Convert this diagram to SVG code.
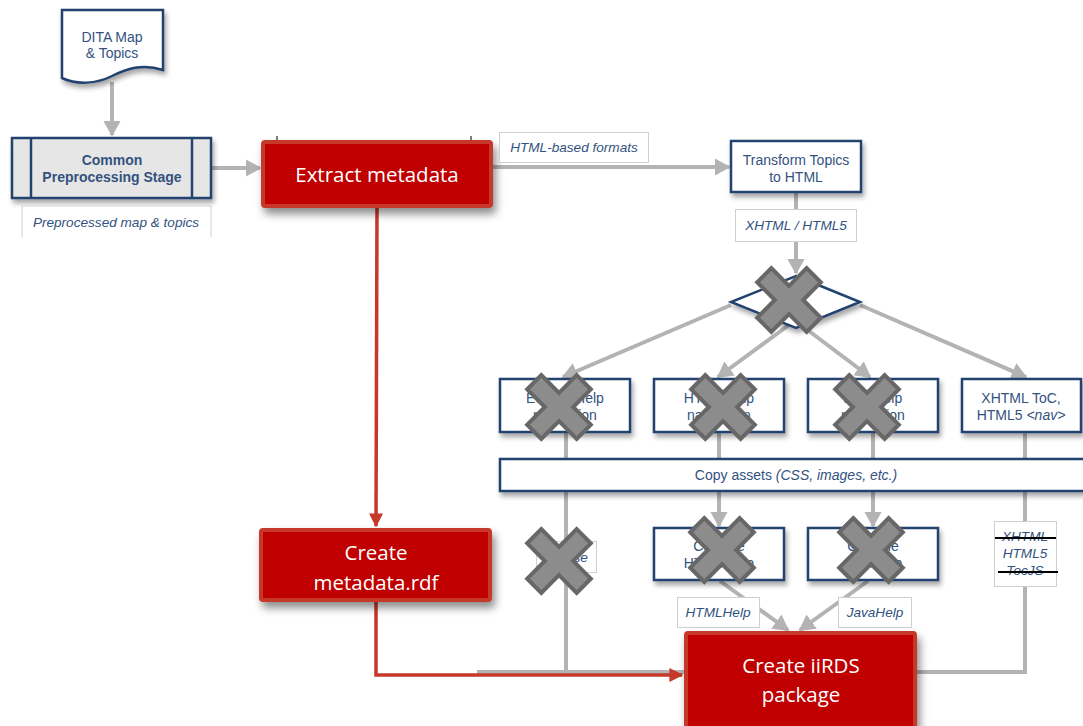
<svg xmlns="http://www.w3.org/2000/svg" width="1083" height="726" viewBox="0 0 1083 726">
  <style>
    .navy { fill: #ffffff; stroke: #22426f; stroke-width: 2.5; }
    .stage { fill: #e6e6e6; stroke: #22426f; stroke-width: 2.5; }
    .red { fill: #c00000; stroke: #c6382a; stroke-width: 4; }
    .lbl { fill: #ffffff; stroke: #cfcfcf; stroke-width: 1; }
    .t { font-family: "Liberation Sans", Arial, sans-serif; font-size: 14px; fill: #33527f; text-anchor: middle; }
    .lt { font-size: 13.6px; font-style: italic; }
    .it { font-style: italic; }
    .b { font-weight: bold; }
    .w { font-family: "Open Sans", "Liberation Sans", sans-serif; font-size: 20.5px; fill: #ffffff; text-anchor: middle; }
    .gl { fill: none; stroke: #b3b3b3; stroke-width: 4; }
    .rl { fill: none; stroke: #c6382a; stroke-width: 3.5; }
    .strike { stroke: #000000; stroke-width: 2; }
  </style>
  <defs>
    <filter id="sh" x="-20%" y="-20%" width="140%" height="160%">
      <feDropShadow dx="2" dy="4" stdDeviation="2.5" flood-color="#000000" flood-opacity="0.35"/>
    </filter>
    <filter id="shr" x="-20%" y="-20%" width="140%" height="160%">
      <feDropShadow dx="3" dy="6" stdDeviation="4" flood-color="#000000" flood-opacity="0.45"/>
    </filter>
    <marker id="ag" markerWidth="4" markerHeight="4.4" refX="3.6" refY="2.2" orient="auto" markerUnits="strokeWidth">
      <path d="M0,0 L4,2.2 L0,4.4 Z" fill="#b3b3b3"/>
    </marker>
    <marker id="ar" markerWidth="4" markerHeight="4" refX="3.6" refY="2" orient="auto" markerUnits="strokeWidth">
      <path d="M0,0 L4,2 L0,4 Z" fill="#c6382a"/>
    </marker>
    <!-- crossed-out mark, centred on the origin -->
    <g id="xmark">
      <polygon transform="rotate(45)" points="-10,-35 10,-35 10,-10 35,-10 35,10 10,10 10,35 -10,35 -10,10 -35,10 -35,-10 -10,-10" fill="#8c8c8c" stroke="#676767" stroke-width="4" stroke-linejoin="miter"/>
    </g>
  </defs>
  <rect width="1083" height="726" fill="#ffffff"/>

  <!-- connectors -->
  <g id="connectors">
    <line class="gl" x1="112" y1="82" x2="112" y2="135" marker-end="url(#ag)"/>
    <line class="gl" x1="212" y1="168" x2="260" y2="168" marker-end="url(#ag)"/>
    <line class="gl" x1="493" y1="167" x2="729" y2="167" marker-end="url(#ag)"/>
    <line class="gl" x1="796" y1="193" x2="796" y2="273" marker-end="url(#ag)"/>
    <line class="gl" x1="731" y1="305" x2="563" y2="377" marker-end="url(#ag)"/>
    <line class="gl" x1="793" y1="322" x2="718" y2="377" marker-end="url(#ag)"/>
    <line class="gl" x1="797" y1="322" x2="870" y2="377" marker-end="url(#ag)"/>
    <line class="gl" x1="860" y1="305" x2="1026" y2="377" marker-end="url(#ag)"/>
    <line class="gl" x1="566" y1="433" x2="566" y2="459"/>
    <line class="gl" x1="719" y1="433" x2="719" y2="459"/>
    <line class="gl" x1="873" y1="433" x2="873" y2="459"/>
    <line class="gl" x1="1025" y1="433" x2="1025" y2="459"/>
    <line class="gl" x1="719" y1="492" x2="719" y2="526" marker-end="url(#ag)"/>
    <line class="gl" x1="873" y1="492" x2="873" y2="526" marker-end="url(#ag)"/>
    <line class="gl" x1="720" y1="581" x2="788" y2="630" marker-end="url(#ag)"/>
    <line class="gl" x1="868" y1="581" x2="800" y2="630" marker-end="url(#ag)"/>
    <polyline class="gl" points="566,492 566,672"/>
    <line class="gl" x1="477" y1="672" x2="685" y2="672"/>
    <polyline class="gl" points="1025,492 1025,672 916,672"/>
    <line class="rl" x1="377" y1="208" x2="376" y2="526" marker-end="url(#ar)"/>
    <polyline class="rl" points="376,602 376,675 682,675" marker-end="url(#ar)"/>
  </g>

  <!-- source document -->
  <g id="dita-map">
    <path class="navy" stroke-width="3" filter="url(#sh)" d="M62,10 H163 V70 C142,63 126,69 112,76 C96,84 77,85 62,78 Z"/>
    <text class="t" x="112" y="42">DITA Map</text>
    <text class="t" x="112" y="58">&amp; Topics</text>
  </g>

  <g id="preprocessing">
    <rect class="stage" x="12" y="138" width="199" height="60" filter="url(#sh)"/>
    <line x1="31" y1="138" x2="31" y2="198" stroke="#22426f" stroke-width="2.5"/>
    <line x1="192" y1="138" x2="192" y2="198" stroke="#22426f" stroke-width="2.5"/>
    <text class="t b" x="112" y="165">Common</text>
    <text class="t b" x="112" y="182">Preprocessing Stage</text>
  </g>

  <g id="label-preprocessed">
    <path d="M22,237 V206 H211 V237" fill="#ffffff" stroke="#cfcfcf" stroke-width="1"/>
    <text class="t lt" x="116" y="227">Preprocessed map &amp; topics</text>
  </g>

  <g id="extract-metadata">
    <line x1="277" y1="136" x2="277" y2="142" stroke="#000" stroke-width="1"/>
    <line x1="471" y1="136" x2="471" y2="142" stroke="#000" stroke-width="1"/>
    <rect class="red" x="263" y="142" width="228" height="64" rx="2" filter="url(#shr)"/>
    <text class="w" x="377" y="182">Extract metadata</text>
  </g>

  <g id="label-html-formats">
    <rect class="lbl" x="499.5" y="132.5" width="149" height="30"/>
    <text class="t lt" x="574" y="152">HTML-based formats</text>
  </g>

  <g id="transform-topics">
    <rect class="navy" x="731" y="141" width="130" height="51" filter="url(#sh)"/>
    <text class="t" x="796" y="165">Transform Topics</text>
    <text class="t" x="796" y="182">to HTML</text>
  </g>

  <g id="label-xhtml">
    <rect class="lbl" x="735.5" y="209.5" width="121" height="32"/>
    <text class="t lt" x="796" y="230">XHTML / HTML5</text>
  </g>

  <g id="decision">
    <polygon class="navy" points="796,276 860,302 796,328 731,302" filter="url(#sh)"/>
    <use href="#xmark" x="789" y="300"/>
  </g>

  <g id="eclipse-nav">
    <rect class="navy" x="500" y="379" width="130" height="53" filter="url(#sh)"/>
    <text class="t" x="565" y="403">Eclipse Help</text>
    <text class="t" x="565" y="420">navigation</text>
    <use href="#xmark" x="559" y="407"/>
  </g>

  <g id="htmlhelp-nav">
    <rect class="navy" x="654" y="379" width="130" height="53" filter="url(#sh)"/>
    <text class="t" x="719" y="403">HTML Help</text>
    <text class="t" x="719" y="420">navigation</text>
    <use href="#xmark" x="723" y="407"/>
  </g>

  <g id="javahelp-nav">
    <rect class="navy" x="808" y="379" width="130" height="53" filter="url(#sh)"/>
    <text class="t" x="873" y="403">JavaHelp</text>
    <text class="t" x="873" y="420">navigation</text>
    <use href="#xmark" x="867" y="407"/>
  </g>

  <g id="xhtml-toc">
    <rect class="navy" x="962" y="379" width="119" height="53" filter="url(#sh)"/>
    <text class="t" x="1021" y="403">XHTML ToC,</text>
    <text class="t" x="1021" y="420">HTML5 <tspan class="it">&lt;nav&gt;</tspan></text>
  </g>

  <g id="copy-assets">
    <rect class="navy" x="500" y="459" width="590" height="32" filter="url(#sh)"/>
    <text class="t" x="796" y="480">Copy assets <tspan class="it">(CSS, images, etc.)</tspan></text>
  </g>

  <g id="label-eclipse">
    <rect class="lbl" x="536.5" y="541.5" width="60" height="31"/>
    <text class="t lt" x="566" y="562">Eclipse</text>
    <use href="#xmark" x="559" y="561"/>
  </g>

  <g id="compile-htmlhelp">
    <rect class="navy" x="654" y="528" width="130" height="52" filter="url(#sh)"/>
    <text class="t" x="719" y="551">Compile</text>
    <text class="t" x="719" y="568">HTML Help</text>
    <use href="#xmark" x="722" y="550"/>
  </g>

  <g id="compile-javahelp">
    <rect class="navy" x="808" y="528" width="130" height="52" filter="url(#sh)"/>
    <text class="t" x="873" y="551">Compile</text>
    <text class="t" x="873" y="568">JavaHelp</text>
    <use href="#xmark" x="871" y="550"/>
  </g>

  <g id="label-htmlhelp">
    <rect class="lbl" x="677.5" y="597.5" width="82" height="30"/>
    <text class="t lt" x="718" y="617">HTMLHelp</text>
  </g>

  <g id="label-javahelp">
    <rect class="lbl" x="838.5" y="597.5" width="73" height="30"/>
    <text class="t lt" x="875" y="617">JavaHelp</text>
  </g>

  <g id="label-toc">
    <rect class="lbl" x="994.5" y="521.5" width="62" height="65"/>
    <text class="t lt" x="1025" y="541">XHTML</text>
    <text class="t lt" x="1025" y="558">HTML5</text>
    <text class="t lt" x="1025" y="575">TocJS</text>
    <line class="strike" x1="995" y1="538" x2="1056" y2="538"/>
    <line class="strike" x1="998" y1="572" x2="1058" y2="572"/>
  </g>

  <g id="create-rdf">
    <rect class="red" x="261" y="530" width="229" height="70" rx="2" filter="url(#shr)"/>
    <text class="w" x="376" y="560">Create</text>
    <text class="w" x="376" y="590">metadata.rdf</text>
  </g>

  <g id="create-package">
    <rect class="red" x="686" y="633" width="229" height="100" rx="2" filter="url(#shr)"/>
    <text class="w" x="801" y="673">Create iiRDS</text>
    <text class="w" x="801" y="702">package</text>
  </g>
</svg>
